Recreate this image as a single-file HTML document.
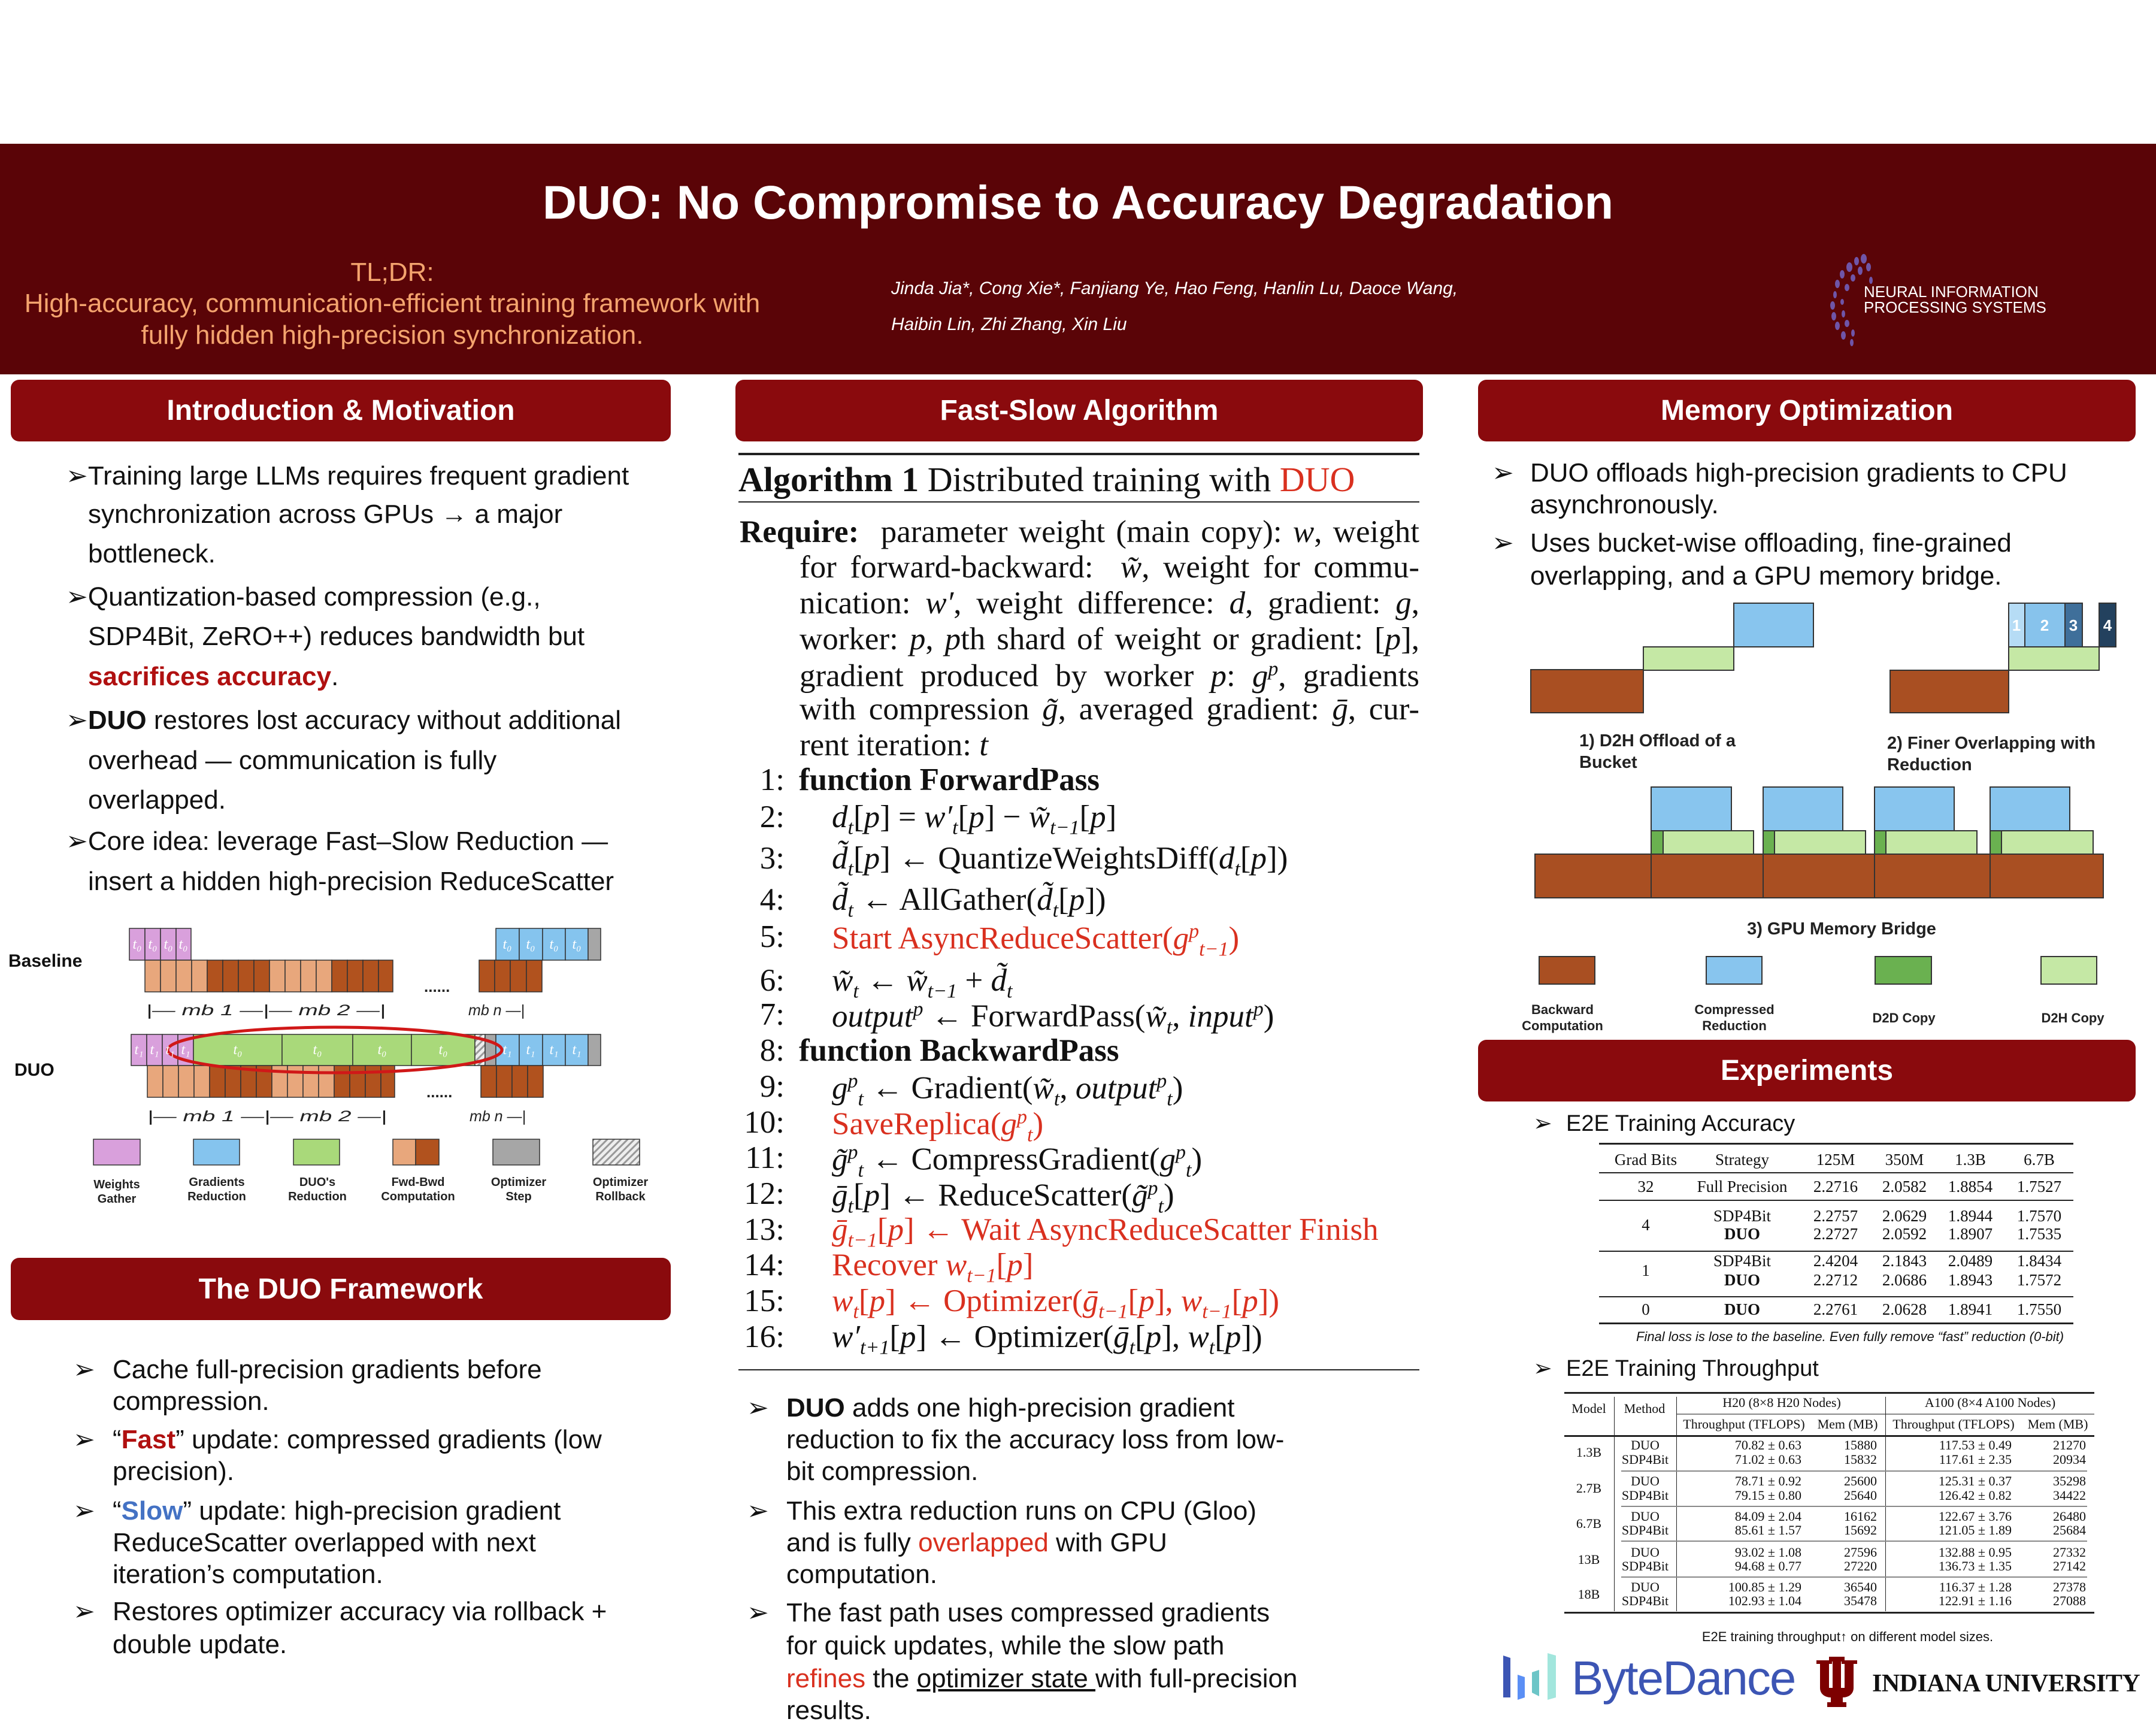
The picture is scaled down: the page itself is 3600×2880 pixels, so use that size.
<!DOCTYPE html>
<html><head><meta charset="utf-8">
<style>
*{margin:0;padding:0;box-sizing:border-box}
body{width:3600px;height:2880px;position:relative;background:#fff;font-family:"Liberation Sans",sans-serif;color:#111;overflow:hidden}
.t{position:absolute;white-space:nowrap;line-height:1}
.s{font-size:44px}
.hdr{position:absolute;background:#8a0a0d;border-radius:14px;color:#fff;font-weight:bold;font-size:48px;display:flex;align-items:center;justify-content:center}
.r{color:#b01010;font-weight:bold}
.bl{color:#4472c4;font-weight:bold}
.rd{color:#d9301f}
.alg{font-family:"Liberation Serif",serif;font-size:53px}
.alg sub,.alg sup{font-size:34px}
.j{text-align:justify;text-align-last:justify}
.num{position:absolute;font-family:"Liberation Serif",serif;font-size:53px;text-align:right;width:80px;line-height:1}
.tb{font-family:"Liberation Serif",serif;font-size:27px}
.tc{transform:translateX(-50%)}
.tr{transform:translateX(-100%)}
.ln{position:absolute;background:#222}
.t2{font-family:"Liberation Serif",serif;font-size:22px}
</style></head><body>

<!-- header band -->
<div style="position:absolute;left:0;top:240px;width:3600px;height:385px;background:#5a0407"></div>
<div class="t" style="left:0;width:3600px;text-align:center;top:298px;font-size:79px;font-weight:bold;color:#fff">DUO: No Compromise to Accuracy Degradation</div>
<div class="t" style="left:0;width:1310px;text-align:center;top:433px;font-size:44px;color:#f4a46e">TL;DR:</div>
<div class="t" style="left:0;width:1310px;text-align:center;top:485px;font-size:44px;color:#f4a46e">High-accuracy, communication-efficient training framework with</div>
<div class="t" style="left:0;width:1310px;text-align:center;top:538px;font-size:44px;color:#f4a46e">fully hidden high-precision synchronization.</div>
<div class="t" style="left:1488px;top:467px;font-size:30px;font-style:italic;color:#fff">Jinda Jia*, Cong Xie*, Fanjiang Ye, Hao Feng, Hanlin Lu, Daoce Wang,</div>
<div class="t" style="left:1488px;top:527px;font-size:30px;font-style:italic;color:#fff">Haibin Lin, Zhi Zhang, Xin Liu</div>
<svg style="position:absolute;left:3020px;top:420px" width="120" height="160" viewBox="0 0 120 160">
<g fill="#6f55a8">
<ellipse cx="92" cy="12" rx="5" ry="8"/><ellipse cx="80" cy="16" rx="4" ry="7"/><ellipse cx="100" cy="26" rx="4" ry="7"/><ellipse cx="68" cy="26" rx="5" ry="8"/><ellipse cx="86" cy="32" rx="4" ry="7"/><ellipse cx="56" cy="38" rx="4" ry="7"/><ellipse cx="74" cy="44" rx="4" ry="6"/><ellipse cx="104" cy="48" rx="3" ry="6"/><ellipse cx="48" cy="54" rx="4" ry="7"/><ellipse cx="64" cy="60" rx="4" ry="6"/><ellipse cx="44" cy="72" rx="3" ry="6"/><ellipse cx="40" cy="90" rx="4" ry="7"/><ellipse cx="56" cy="84" rx="3" ry="5"/><ellipse cx="42" cy="108" rx="4" ry="7"/><ellipse cx="58" cy="104" rx="3" ry="6"/><ellipse cx="48" cy="124" rx="4" ry="7"/><ellipse cx="64" cy="120" rx="4" ry="6"/><ellipse cx="58" cy="140" rx="4" ry="7"/><ellipse cx="74" cy="136" rx="3" ry="6"/><ellipse cx="72" cy="152" rx="3" ry="6"/>
</g></svg>
<div class="t" style="left:3112px;top:474px;font-size:26px;color:#fff">NEURAL INFORMATION</div>
<div class="t" style="left:3112px;top:500px;font-size:26px;color:#fff">PROCESSING SYSTEMS</div>

<!-- section headers -->
<div class="hdr" style="left:18px;top:634px;width:1102px;height:103px">Introduction &amp; Motivation</div>
<div class="hdr" style="left:1228px;top:634px;width:1148px;height:103px">Fast-Slow Algorithm</div>
<div class="hdr" style="left:2468px;top:634px;width:1098px;height:103px">Memory Optimization</div>
<div class="hdr" style="left:18px;top:2100px;width:1102px;height:104px">The DUO Framework</div>
<div class="hdr" style="left:2468px;top:1736px;width:1098px;height:103px">Experiments</div>

<!-- intro bullets -->
<div class="t s" style="left:110px;top:773px">➢Training large LLMs requires frequent gradient</div>
<div class="t s" style="left:147px;top:837px">synchronization across GPUs → a major</div>
<div class="t s" style="left:147px;top:903px">bottleneck.</div>
<div class="t s" style="left:110px;top:975px">➢Quantization-based compression (e.g.,</div>
<div class="t s" style="left:147px;top:1041px">SDP4Bit, ZeRO++) reduces bandwidth but</div>
<div class="t s" style="left:147px;top:1108px"><span class="r">sacrifices accuracy</span>.</div>
<div class="t s" style="left:110px;top:1181px">➢<b>DUO</b> restores lost accuracy without additional</div>
<div class="t s" style="left:147px;top:1248px">overhead — communication is fully</div>
<div class="t s" style="left:147px;top:1314px">overlapped.</div>
<div class="t s" style="left:110px;top:1383px">➢Core idea: leverage Fast–Slow Reduction —</div>
<div class="t s" style="left:147px;top:1450px">insert a hidden high-precision ReduceScatter</div>

<!-- baseline/DUO diagram -->
<svg style="position:absolute;left:0;top:1500px" width="1100" height="540" viewBox="0 0 1100 540" font-family="Liberation Sans, sans-serif">
<defs><pattern id="h" width="8" height="8" patternUnits="userSpaceOnUse" patternTransform="rotate(45)"><rect width="8" height="8" fill="#eee"/><rect width="3" height="8" fill="#999"/></pattern></defs>
<g stroke="#333" stroke-width="1.5">
<rect x="216" y="50" width="26" height="53" fill="#d9a0dc"/><rect x="242" y="50" width="26" height="53" fill="#d9a0dc"/><rect x="268" y="50" width="26" height="53" fill="#d9a0dc"/><rect x="294" y="50" width="25" height="53" fill="#d9a0dc"/>
<rect x="242" y="103" width="26" height="53" fill="#e8a77c"/><rect x="268" y="103" width="26" height="53" fill="#e8a77c"/><rect x="294" y="103" width="26" height="53" fill="#e8a77c"/><rect x="320" y="103" width="26" height="53" fill="#e8a77c"/>
<rect x="346" y="103" width="26" height="53" fill="#b1521e"/><rect x="372" y="103" width="26" height="53" fill="#b1521e"/><rect x="398" y="103" width="26" height="53" fill="#b1521e"/><rect x="424" y="103" width="26" height="53" fill="#b1521e"/>
<rect x="450" y="103" width="26" height="53" fill="#e8a77c"/><rect x="476" y="103" width="26" height="53" fill="#e8a77c"/><rect x="502" y="103" width="26" height="53" fill="#e8a77c"/><rect x="528" y="103" width="26" height="53" fill="#e8a77c"/>
<rect x="554" y="103" width="26" height="53" fill="#b1521e"/><rect x="580" y="103" width="26" height="53" fill="#b1521e"/><rect x="606" y="103" width="26" height="53" fill="#b1521e"/><rect x="632" y="103" width="24" height="53" fill="#b1521e"/>
<rect x="800" y="103" width="26" height="53" fill="#b1521e"/><rect x="826" y="103" width="26" height="53" fill="#b1521e"/><rect x="852" y="103" width="27" height="53" fill="#b1521e"/><rect x="879" y="103" width="26" height="53" fill="#b1521e"/>
<rect x="828" y="50" width="39" height="53" fill="#85c4ee"/><rect x="867" y="50" width="39" height="53" fill="#85c4ee"/><rect x="906" y="50" width="38" height="53" fill="#85c4ee"/><rect x="944" y="50" width="38" height="53" fill="#85c4ee"/><rect x="982" y="50" width="21" height="53" fill="#a6a6a6"/>
<rect x="219" y="227" width="26" height="52" fill="#d9a0dc"/><rect x="245" y="227" width="26" height="52" fill="#d9a0dc"/><rect x="271" y="227" width="26" height="52" fill="#d9a0dc"/><rect x="297" y="227" width="26" height="52" fill="#d9a0dc"/>
<rect x="323" y="227" width="148" height="52" fill="#a9d97a"/><rect x="471" y="227" width="118" height="52" fill="#a9d97a"/><rect x="589" y="227" width="98" height="52" fill="#a9d97a"/><rect x="687" y="227" width="106" height="52" fill="#a9d97a"/>
<rect x="793" y="227" width="17" height="52" fill="url(#h)"/><rect x="810" y="227" width="18" height="52" fill="#a6a6a6"/>
<rect x="828" y="227" width="39" height="52" fill="#85c4ee"/><rect x="867" y="227" width="39" height="52" fill="#85c4ee"/><rect x="906" y="227" width="38" height="52" fill="#85c4ee"/><rect x="944" y="227" width="38" height="52" fill="#85c4ee"/><rect x="982" y="227" width="21" height="52" fill="#a6a6a6"/>
<rect x="246" y="279" width="26" height="53" fill="#e8a77c"/><rect x="272" y="279" width="26" height="53" fill="#e8a77c"/><rect x="298" y="279" width="26" height="53" fill="#e8a77c"/><rect x="324" y="279" width="26" height="53" fill="#e8a77c"/>
<rect x="350" y="279" width="26" height="53" fill="#b1521e"/><rect x="376" y="279" width="26" height="53" fill="#b1521e"/><rect x="402" y="279" width="26" height="53" fill="#b1521e"/><rect x="428" y="279" width="26" height="53" fill="#b1521e"/>
<rect x="454" y="279" width="26" height="53" fill="#e8a77c"/><rect x="480" y="279" width="26" height="53" fill="#e8a77c"/><rect x="506" y="279" width="26" height="53" fill="#e8a77c"/><rect x="532" y="279" width="26" height="53" fill="#e8a77c"/>
<rect x="558" y="279" width="26" height="53" fill="#b1521e"/><rect x="584" y="279" width="26" height="53" fill="#b1521e"/><rect x="610" y="279" width="26" height="53" fill="#b1521e"/><rect x="636" y="279" width="23" height="53" fill="#b1521e"/>
<rect x="803" y="279" width="26" height="53" fill="#b1521e"/><rect x="829" y="279" width="26" height="53" fill="#b1521e"/><rect x="855" y="279" width="26" height="53" fill="#b1521e"/><rect x="881" y="279" width="26" height="53" fill="#b1521e"/>
<rect x="156" y="402" width="78" height="43" fill="#d9a0dc"/><rect x="323" y="402" width="77" height="43" fill="#85c4ee"/><rect x="490" y="402" width="77" height="43" fill="#a9d97a"/>
<rect x="656" y="402" width="38" height="43" fill="#e8a77c"/><rect x="694" y="402" width="39" height="43" fill="#b1521e"/>
<rect x="823" y="402" width="78" height="43" fill="#a6a6a6"/><rect x="990" y="402" width="78" height="43" fill="url(#h)"/>
</g>
<ellipse cx="559" cy="253" rx="279" ry="38" fill="none" stroke="#d01818" stroke-width="5"/>
<g fill="#fff" font-style="italic" font-size="24" font-family="Liberation Serif, serif" text-anchor="middle">
<text x="229" y="84">t₀</text><text x="255" y="84">t₀</text><text x="281" y="84">t₀</text><text x="306" y="84">t₀</text>
<text x="847" y="84">t₀</text><text x="886" y="84">t₀</text><text x="925" y="84">t₀</text><text x="963" y="84">t₀</text>
<text x="232" y="260">t₁</text><text x="258" y="260">t₁</text><text x="284" y="260">t₁</text><text x="310" y="260">t₁</text>
<text x="397" y="260">t₀</text><text x="530" y="260">t₀</text><text x="638" y="260">t₀</text><text x="740" y="260">t₀</text>
<text x="847" y="260">t₁</text><text x="886" y="260">t₁</text><text x="925" y="260">t₁</text><text x="963" y="260">t₁</text>
</g>
<g font-weight="bold" font-size="30" fill="#111"><text x="14" y="114">Baseline</text><text x="24" y="296">DUO</text></g>
<g font-size="25" font-style="italic" fill="#222">
<text x="244" y="195" textLength="400" lengthAdjust="spacingAndGlyphs">|— mb 1 —|— mb 2 —|</text><text x="782" y="195">mb n —|</text>
<text x="246" y="372" textLength="400" lengthAdjust="spacingAndGlyphs">|— mb 1 —|— mb 2 —|</text><text x="784" y="372">mb n —|</text>
</g>
<g font-size="26" font-weight="bold" fill="#222"><text x="708" y="156">......</text><text x="712" y="332">......</text></g>
<g font-size="20" font-weight="bold" fill="#222" text-anchor="middle">
<text x="195" y="484">Weights</text><text x="195" y="508">Gather</text>
<text x="362" y="480">Gradients</text><text x="362" y="504">Reduction</text>
<text x="530" y="480">DUO's</text><text x="530" y="504">Reduction</text>
<text x="698" y="480">Fwd-Bwd</text><text x="698" y="504">Computation</text>
<text x="866" y="480">Optimizer</text><text x="866" y="504">Step</text>
<text x="1036" y="480">Optimizer</text><text x="1036" y="504">Rollback</text>
</g>
</svg>

<!-- framework bullets -->
<div class="t s" style="left:122px;top:2265px">➢</div><div class="t s" style="left:188px;top:2265px">Cache full-precision gradients before</div>
<div class="t s" style="left:188px;top:2318px">compression.</div>
<div class="t s" style="left:122px;top:2382px">➢</div><div class="t s" style="left:188px;top:2382px">“<span class="r">Fast</span>” update: compressed gradients (low</div>
<div class="t s" style="left:188px;top:2435px">precision).</div>
<div class="t s" style="left:122px;top:2501px">➢</div><div class="t s" style="left:188px;top:2501px">“<span class="bl">Slow</span>” update: high-precision gradient</div>
<div class="t s" style="left:188px;top:2554px">ReduceScatter overlapped with next</div>
<div class="t s" style="left:188px;top:2607px">iteration’s computation.</div>
<div class="t s" style="left:122px;top:2669px">➢</div><div class="t s" style="left:188px;top:2669px">Restores optimizer accuracy via rollback +</div>
<div class="t s" style="left:188px;top:2724px">double update.</div>

<!-- algorithm -->
<div class="ln" style="left:1233px;top:756px;width:1137px;height:4px"></div>
<div class="t alg" style="left:1233px;top:772px;font-size:58px"><b>Algorithm 1</b> Distributed training with <span class="rd">DUO</span></div>
<div class="ln" style="left:1233px;top:837px;width:1137px;height:2px"></div>
<div class="t alg j" style="left:1235px;top:862px;width:1135px"><b>Require:</b>&nbsp; parameter weight (main copy): <i>w</i>, weight</div>
<div class="t alg j" style="left:1335px;top:921px;width:1035px">for forward-backward: &nbsp;<i>w̃</i>, weight for commu-</div>
<div class="t alg j" style="left:1335px;top:981px;width:1035px">nication: <i>w′</i>, weight difference: <i>d</i>, gradient: <i>g</i>,</div>
<div class="t alg j" style="left:1335px;top:1041px;width:1035px">worker: <i>p</i>, <i>p</i>th shard of weight or gradient: [<i>p</i>],</div>
<div class="t alg j" style="left:1335px;top:1100px;width:1035px">gradient produced by worker <i>p</i>: <i>g<sup>p</sup></i>, gradients</div>
<div class="t alg j" style="left:1335px;top:1158px;width:1035px">with compression <i>g̃</i>, averaged gradient: <i>ḡ</i>, cur-</div>
<div class="t alg" style="left:1335px;top:1218px">rent iteration: <i>t</i></div>

<div class="num" style="left:1230px;top:1276px">1:</div><div class="t alg" style="left:1334px;top:1276px"><b>function ForwardPass</b></div>
<div class="num" style="left:1230px;top:1338px">2:</div><div class="t alg" style="left:1389px;top:1338px"><i>d<sub>t</sub></i>[<i>p</i>] = <i>w′<sub>t</sub></i>[<i>p</i>] − <i>w̃<sub>t−1</sub></i>[<i>p</i>]</div>
<div class="num" style="left:1230px;top:1407px">3:</div><div class="t alg" style="left:1389px;top:1407px"><i>d̃<sub>t</sub></i>[<i>p</i>] ← QuantizeWeightsDiff(<i>d<sub>t</sub></i>[<i>p</i>])</div>
<div class="num" style="left:1230px;top:1476px">4:</div><div class="t alg" style="left:1389px;top:1476px"><i>d̃<sub>t</sub></i> ← AllGather(<i>d̃<sub>t</sub></i>[<i>p</i>])</div>
<div class="num" style="left:1230px;top:1538px">5:</div><div class="t alg rd" style="left:1389px;top:1538px">Start AsyncReduceScatter(<i>g<sup>p</sup><sub>t−1</sub></i>)</div>
<div class="num" style="left:1230px;top:1611px">6:</div><div class="t alg" style="left:1389px;top:1611px"><i>w̃<sub>t</sub></i> ← <i>w̃<sub>t−1</sub></i> + <i>d̃<sub>t</sub></i></div>
<div class="num" style="left:1230px;top:1668px">7:</div><div class="t alg" style="left:1389px;top:1668px"><i>output<sup>p</sup></i> ← ForwardPass(<i>w̃<sub>t</sub></i>, <i>input<sup>p</sup></i>)</div>
<div class="num" style="left:1230px;top:1728px">8:</div><div class="t alg" style="left:1334px;top:1728px"><b>function BackwardPass</b></div>
<div class="num" style="left:1230px;top:1788px">9:</div><div class="t alg" style="left:1389px;top:1788px"><i>g<sup>p</sup><sub>t</sub></i> ← Gradient(<i>w̃<sub>t</sub></i>, <i>output<sup>p</sup><sub>t</sub></i>)</div>
<div class="num" style="left:1230px;top:1848px">10:</div><div class="t alg rd" style="left:1389px;top:1848px">SaveReplica(<i>g<sup>p</sup><sub>t</sub></i>)</div>
<div class="num" style="left:1230px;top:1907px">11:</div><div class="t alg" style="left:1389px;top:1907px"><i>g̃<sup>p</sup><sub>t</sub></i> ← CompressGradient(<i>g<sup>p</sup><sub>t</sub></i>)</div>
<div class="num" style="left:1230px;top:1967px">12:</div><div class="t alg" style="left:1389px;top:1967px"><i>ḡ<sub>t</sub></i>[<i>p</i>] ← ReduceScatter(<i>g̃<sup>p</sup><sub>t</sub></i>)</div>
<div class="num" style="left:1230px;top:2027px">13:</div><div class="t alg rd" style="left:1389px;top:2027px"><i>ḡ<sub>t−1</sub></i>[<i>p</i>] ← Wait AsyncReduceScatter Finish</div>
<div class="num" style="left:1230px;top:2086px">14:</div><div class="t alg rd" style="left:1389px;top:2086px">Recover <i>w<sub>t−1</sub></i>[<i>p</i>]</div>
<div class="num" style="left:1230px;top:2146px">15:</div><div class="t alg rd" style="left:1389px;top:2146px"><i>w<sub>t</sub></i>[<i>p</i>] ← Optimizer(<i>ḡ<sub>t−1</sub></i>[<i>p</i>], <i>w<sub>t−1</sub></i>[<i>p</i>])</div>
<div class="num" style="left:1230px;top:2206px">16:</div><div class="t alg" style="left:1389px;top:2206px"><i>w′<sub>t+1</sub></i>[<i>p</i>] ← Optimizer(<i>ḡ<sub>t</sub></i>[<i>p</i>], <i>w<sub>t</sub></i>[<i>p</i>])</div>
<div class="ln" style="left:1233px;top:2286px;width:1137px;height:2px"></div>

<!-- fast-slow bullets -->
<div class="t s" style="left:1247px;top:2329px">➢</div><div class="t s" style="left:1313px;top:2329px"><b>DUO</b> adds one high-precision gradient</div>
<div class="t s" style="left:1313px;top:2382px">reduction to fix the accuracy loss from low-</div>
<div class="t s" style="left:1313px;top:2435px">bit compression.</div>
<div class="t s" style="left:1247px;top:2501px">➢</div><div class="t s" style="left:1313px;top:2501px">This extra reduction runs on CPU (Gloo)</div>
<div class="t s" style="left:1313px;top:2554px">and is fully <span class="rd">overlapped</span> with GPU</div>
<div class="t s" style="left:1313px;top:2607px">computation.</div>
<div class="t s" style="left:1247px;top:2671px">➢</div><div class="t s" style="left:1313px;top:2671px">The fast path uses compressed gradients</div>
<div class="t s" style="left:1313px;top:2726px">for quick updates, while the slow path</div>
<div class="t s" style="left:1313px;top:2781px"><span class="rd">refines</span> the <u>optimizer state </u>with full-precision</div>
<div class="t s" style="left:1313px;top:2834px">results.</div>

<!-- memory bullets -->
<div class="t s" style="left:2491px;top:768px">➢</div><div class="t s" style="left:2555px;top:768px">DUO offloads high-precision gradients to CPU</div>
<div class="t s" style="left:2555px;top:821px">asynchronously.</div>
<div class="t s" style="left:2491px;top:885px">➢</div><div class="t s" style="left:2555px;top:885px">Uses bucket-wise offloading, fine-grained</div>
<div class="t s" style="left:2555px;top:940px">overlapping, and a GPU memory bridge.</div>

<!-- memory diagram -->
<svg style="position:absolute;left:2500px;top:980px" width="1100" height="750" viewBox="0 0 1100 750" font-family="Liberation Sans, sans-serif">
<g stroke="#333" stroke-width="2">
<rect x="56" y="138" width="188" height="72" fill="#a94f22"/><rect x="244" y="100" width="151" height="39" fill="#c5e8a5"/><rect x="395" y="27" width="133" height="73" fill="#88c5ee"/>
<rect x="656" y="139" width="198" height="71" fill="#a94f22"/><rect x="854" y="100" width="151" height="39" fill="#c5e8a5"/>
<rect x="854" y="27" width="27" height="73" fill="#b6dcf5"/><rect x="881" y="27" width="67" height="73" fill="#87c3ec"/><rect x="948" y="27" width="29" height="73" fill="#3f6f9a"/><rect x="1005" y="27" width="28" height="73" fill="#23415e"/>
<rect x="257" y="334" width="134" height="73" fill="#88c5ee"/><rect x="444" y="334" width="133" height="73" fill="#88c5ee"/><rect x="630" y="334" width="133" height="73" fill="#88c5ee"/><rect x="823" y="334" width="133" height="73" fill="#88c5ee"/>
<rect x="257" y="407" width="20" height="39" fill="#6ab150"/><rect x="277" y="407" width="151" height="39" fill="#c5e8a5"/>
<rect x="444" y="407" width="19" height="39" fill="#6ab150"/><rect x="463" y="407" width="152" height="39" fill="#c5e8a5"/>
<rect x="630" y="407" width="19" height="39" fill="#6ab150"/><rect x="649" y="407" width="152" height="39" fill="#c5e8a5"/>
<rect x="823" y="407" width="19" height="39" fill="#6ab150"/><rect x="842" y="407" width="153" height="39" fill="#c5e8a5"/>
<rect x="63" y="446" width="194" height="73" fill="#a94f22"/><rect x="257" y="446" width="187" height="73" fill="#a94f22"/><rect x="444" y="446" width="186" height="73" fill="#a94f22"/><rect x="630" y="446" width="193" height="73" fill="#a94f22"/><rect x="823" y="446" width="189" height="73" fill="#a94f22"/>
<rect x="70" y="617" width="93" height="46" fill="#a94f22"/><rect x="349" y="617" width="93" height="46" fill="#88c5ee"/><rect x="631" y="617" width="94" height="46" fill="#6ab150"/><rect x="908" y="617" width="93" height="46" fill="#c5e8a5"/>
</g>
<g fill="#fff" font-weight="bold" font-size="26" text-anchor="middle"><text x="867" y="73">1</text><text x="914" y="73">2</text><text x="962" y="73">3</text><text x="1019" y="73">4</text></g>
<g font-weight="bold" font-size="29" fill="#222">
<text x="137" y="266">1) D2H Offload of a</text><text x="137" y="302">Bucket</text>
<text x="651" y="270">2) Finer Overlapping with</text><text x="651" y="306">Reduction</text>
<text x="575" y="580" text-anchor="middle">3) GPU Memory Bridge</text>
</g>
<g font-weight="bold" font-size="22" fill="#222" text-anchor="middle">
<text x="109" y="713">Backward</text><text x="109" y="740">Computation</text>
<text x="396" y="713">Compressed</text><text x="396" y="740">Reduction</text>
<text x="679" y="727">D2D Copy</text><text x="961" y="727">D2H Copy</text>
</g>
</svg>

<!-- experiments -->
<div class="t" style="left:2560px;top:1857px;font-size:38px">➢</div><div class="t" style="left:2615px;top:1857px;font-size:38px">E2E Training Accuracy</div>
<div class="ln" style="left:2670px;top:1908px;width:792px;height:3px"></div>
<div class="t tb tc" style="left:2748px;top:1923px">Grad Bits</div><div class="t tb tc" style="left:2909px;top:1923px">Strategy</div>
<div class="t tb tc" style="left:3065px;top:1923px">125M</div><div class="t tb tc" style="left:3180px;top:1923px">350M</div><div class="t tb tc" style="left:3290px;top:1923px">1.3B</div><div class="t tb tc" style="left:3405px;top:1923px">6.7B</div>
<div class="ln" style="left:2670px;top:1957px;width:792px;height:2px"></div>
<div class="t tb tc" style="left:2748px;top:1968px">32</div><div class="t tb tc" style="left:2909px;top:1968px">Full Precision</div>
<div class="t tb tc" style="left:3065px;top:1968px">2.2716</div><div class="t tb tc" style="left:3180px;top:1968px">2.0582</div><div class="t tb tc" style="left:3290px;top:1968px">1.8854</div><div class="t tb tc" style="left:3405px;top:1968px">1.7527</div>
<div class="ln" style="left:2670px;top:2003px;width:792px;height:2px"></div>
<div class="t tb tc" style="left:2748px;top:2032px">4</div>
<div class="t tb tc" style="left:2909px;top:2017px">SDP4Bit</div><div class="t tb tc" style="left:2909px;top:2047px;font-weight:bold">DUO</div>
<div class="t tb tc" style="left:3065px;top:2017px">2.2757</div><div class="t tb tc" style="left:3180px;top:2017px">2.0629</div><div class="t tb tc" style="left:3290px;top:2017px">1.8944</div><div class="t tb tc" style="left:3405px;top:2017px">1.7570</div>
<div class="t tb tc" style="left:3065px;top:2047px">2.2727</div><div class="t tb tc" style="left:3180px;top:2047px">2.0592</div><div class="t tb tc" style="left:3290px;top:2047px">1.8907</div><div class="t tb tc" style="left:3405px;top:2047px">1.7535</div>
<div class="ln" style="left:2670px;top:2088px;width:792px;height:2px"></div>
<div class="t tb tc" style="left:2748px;top:2108px">1</div>
<div class="t tb tc" style="left:2909px;top:2092px">SDP4Bit</div><div class="t tb tc" style="left:2909px;top:2124px;font-weight:bold">DUO</div>
<div class="t tb tc" style="left:3065px;top:2092px">2.4204</div><div class="t tb tc" style="left:3180px;top:2092px">2.1843</div><div class="t tb tc" style="left:3290px;top:2092px">2.0489</div><div class="t tb tc" style="left:3405px;top:2092px">1.8434</div>
<div class="t tb tc" style="left:3065px;top:2124px">2.2712</div><div class="t tb tc" style="left:3180px;top:2124px">2.0686</div><div class="t tb tc" style="left:3290px;top:2124px">1.8943</div><div class="t tb tc" style="left:3405px;top:2124px">1.7572</div>
<div class="ln" style="left:2670px;top:2164px;width:792px;height:2px"></div>
<div class="t tb tc" style="left:2748px;top:2173px">0</div><div class="t tb tc" style="left:2909px;top:2173px;font-weight:bold">DUO</div>
<div class="t tb tc" style="left:3065px;top:2173px">2.2761</div><div class="t tb tc" style="left:3180px;top:2173px">2.0628</div><div class="t tb tc" style="left:3290px;top:2173px">1.8941</div><div class="t tb tc" style="left:3405px;top:2173px">1.7550</div>
<div class="ln" style="left:2670px;top:2208px;width:792px;height:3px"></div>
<div class="t" style="left:2732px;top:2221px;font-size:22px;font-style:italic">Final loss is lose to the baseline. Even fully remove “fast” reduction (0-bit)</div>

<div class="t" style="left:2560px;top:2266px;font-size:38px">➢</div><div class="t" style="left:2615px;top:2266px;font-size:38px">E2E Training Throughput</div>
<div class="ln" style="left:2612px;top:2324px;width:885px;height:3px"></div>
<div class="t t2 tc" style="left:2653px;top:2341px">Model</div><div class="t t2 tc" style="left:2746px;top:2341px">Method</div>
<div class="t t2 tc" style="left:2975px;top:2331px">H20 (8×8 H20 Nodes)</div><div class="t t2 tc" style="left:3323px;top:2331px">A100 (8×4 A100 Nodes)</div>
<div class="ln" style="left:2800px;top:2360px;width:697px;height:2px;background:#888"></div>
<div class="t t2 tc" style="left:2912px;top:2367px">Throughput (TFLOPS)</div><div class="t t2 tc" style="left:3085px;top:2367px">Mem (MB)</div>
<div class="t t2 tc" style="left:3262px;top:2367px">Throughput (TFLOPS)</div><div class="t t2 tc" style="left:3436px;top:2367px">Mem (MB)</div>
<div class="ln" style="left:2612px;top:2396px;width:885px;height:3px"></div>
<div class="ln" style="left:2695px;top:2332px;width:1px;height:358px"></div>
<div class="ln" style="left:2799px;top:2332px;width:1px;height:358px"></div>
<div class="ln" style="left:3148px;top:2332px;width:1px;height:358px"></div>
<div class="ln" style="left:2707px;top:2455px;width:778px;height:2px;background:#888"></div>
<div class="ln" style="left:2707px;top:2514px;width:778px;height:2px;background:#888"></div>
<div class="ln" style="left:2707px;top:2572px;width:778px;height:2px;background:#888"></div>
<div class="ln" style="left:2707px;top:2632px;width:778px;height:2px;background:#888"></div>
<div class="ln" style="left:2612px;top:2691px;width:885px;height:3px"></div>

<div class="t t2 tc" style="left:2653px;top:2414px">1.3B</div>
<div class="t t2 tc" style="left:2747px;top:2402px">DUO</div><div class="t t2 tc" style="left:2747px;top:2426px">SDP4Bit</div>
<div class="t t2 tr" style="left:3008px;top:2402px">70.82 ± 0.63</div><div class="t t2 tr" style="left:3134px;top:2402px">15880</div><div class="t t2 tr" style="left:3359px;top:2402px">117.53 ± 0.49</div><div class="t t2 tr" style="left:3483px;top:2402px">21270</div>
<div class="t t2 tr" style="left:3008px;top:2426px">71.02 ± 0.63</div><div class="t t2 tr" style="left:3134px;top:2426px">15832</div><div class="t t2 tr" style="left:3359px;top:2426px">117.61 ± 2.35</div><div class="t t2 tr" style="left:3483px;top:2426px">20934</div>

<div class="t t2 tc" style="left:2653px;top:2474px">2.7B</div>
<div class="t t2 tc" style="left:2747px;top:2462px">DUO</div><div class="t t2 tc" style="left:2747px;top:2486px">SDP4Bit</div>
<div class="t t2 tr" style="left:3008px;top:2462px">78.71 ± 0.92</div><div class="t t2 tr" style="left:3134px;top:2462px">25600</div><div class="t t2 tr" style="left:3359px;top:2462px">125.31 ± 0.37</div><div class="t t2 tr" style="left:3483px;top:2462px">35298</div>
<div class="t t2 tr" style="left:3008px;top:2486px">79.15 ± 0.80</div><div class="t t2 tr" style="left:3134px;top:2486px">25640</div><div class="t t2 tr" style="left:3359px;top:2486px">126.42 ± 0.82</div><div class="t t2 tr" style="left:3483px;top:2486px">34422</div>

<div class="t t2 tc" style="left:2653px;top:2533px">6.7B</div>
<div class="t t2 tc" style="left:2747px;top:2521px">DUO</div><div class="t t2 tc" style="left:2747px;top:2544px">SDP4Bit</div>
<div class="t t2 tr" style="left:3008px;top:2521px">84.09 ± 2.04</div><div class="t t2 tr" style="left:3134px;top:2521px">16162</div><div class="t t2 tr" style="left:3359px;top:2521px">122.67 ± 3.76</div><div class="t t2 tr" style="left:3483px;top:2521px">26480</div>
<div class="t t2 tr" style="left:3008px;top:2544px">85.61 ± 1.57</div><div class="t t2 tr" style="left:3134px;top:2544px">15692</div><div class="t t2 tr" style="left:3359px;top:2544px">121.05 ± 1.89</div><div class="t t2 tr" style="left:3483px;top:2544px">25684</div>

<div class="t t2 tc" style="left:2653px;top:2593px">13B</div>
<div class="t t2 tc" style="left:2747px;top:2581px">DUO</div><div class="t t2 tc" style="left:2747px;top:2604px">SDP4Bit</div>
<div class="t t2 tr" style="left:3008px;top:2581px">93.02 ± 1.08</div><div class="t t2 tr" style="left:3134px;top:2581px">27596</div><div class="t t2 tr" style="left:3359px;top:2581px">132.88 ± 0.95</div><div class="t t2 tr" style="left:3483px;top:2581px">27332</div>
<div class="t t2 tr" style="left:3008px;top:2604px">94.68 ± 0.77</div><div class="t t2 tr" style="left:3134px;top:2604px">27220</div><div class="t t2 tr" style="left:3359px;top:2604px">136.73 ± 1.35</div><div class="t t2 tr" style="left:3483px;top:2604px">27142</div>

<div class="t t2 tc" style="left:2653px;top:2651px">18B</div>
<div class="t t2 tc" style="left:2747px;top:2639px">DUO</div><div class="t t2 tc" style="left:2747px;top:2662px">SDP4Bit</div>
<div class="t t2 tr" style="left:3008px;top:2639px">100.85 ± 1.29</div><div class="t t2 tr" style="left:3134px;top:2639px">36540</div><div class="t t2 tr" style="left:3359px;top:2639px">116.37 ± 1.28</div><div class="t t2 tr" style="left:3483px;top:2639px">27378</div>
<div class="t t2 tr" style="left:3008px;top:2662px">102.93 ± 1.04</div><div class="t t2 tr" style="left:3134px;top:2662px">35478</div><div class="t t2 tr" style="left:3359px;top:2662px">122.91 ± 1.16</div><div class="t t2 tr" style="left:3483px;top:2662px">27088</div>

<div class="t tc" style="left:3085px;top:2722px;font-size:22px">E2E training throughput↑ on different model sizes.</div>

<!-- logos -->
<svg style="position:absolute;left:2510px;top:2760px" width="95" height="82" viewBox="0 0 95 82">
<polygon points="0,4 12,8 12,74 0,74" fill="#3c55b4"/>
<polygon points="24,36 36,40 36,74 24,78" fill="#5b8ff5"/>
<polygon points="48,32 60,28 60,72 48,66" fill="#6cc5c7"/>
<polygon points="74,0 88,4 88,74 74,78" fill="#a2e6dd"/>
</svg>
<div class="t" style="left:2624px;top:2762px;font-size:80px;color:#3c55b4;letter-spacing:-2px">ByteDance</div>
<svg style="position:absolute;left:3032px;top:2766px" width="70" height="84" viewBox="0 0 70 84">
<path d="M22 0h26v8h-6v44h6V12h-5V6h26v6h-6v40c0 10-8 16-18 16v8h6v8H19v-8h6v-8C15 68 7 62 7 52V12H1V6h26v6h-5v40h6V8h-6z" fill="#7d0000"/>
</svg>
<div class="t" style="left:3126px;top:2790px;font-size:42px;font-weight:bold;font-family:'Liberation Serif',serif;color:#111;letter-spacing:-0.5px">INDIANA UNIVERSITY</div>
</body></html>
